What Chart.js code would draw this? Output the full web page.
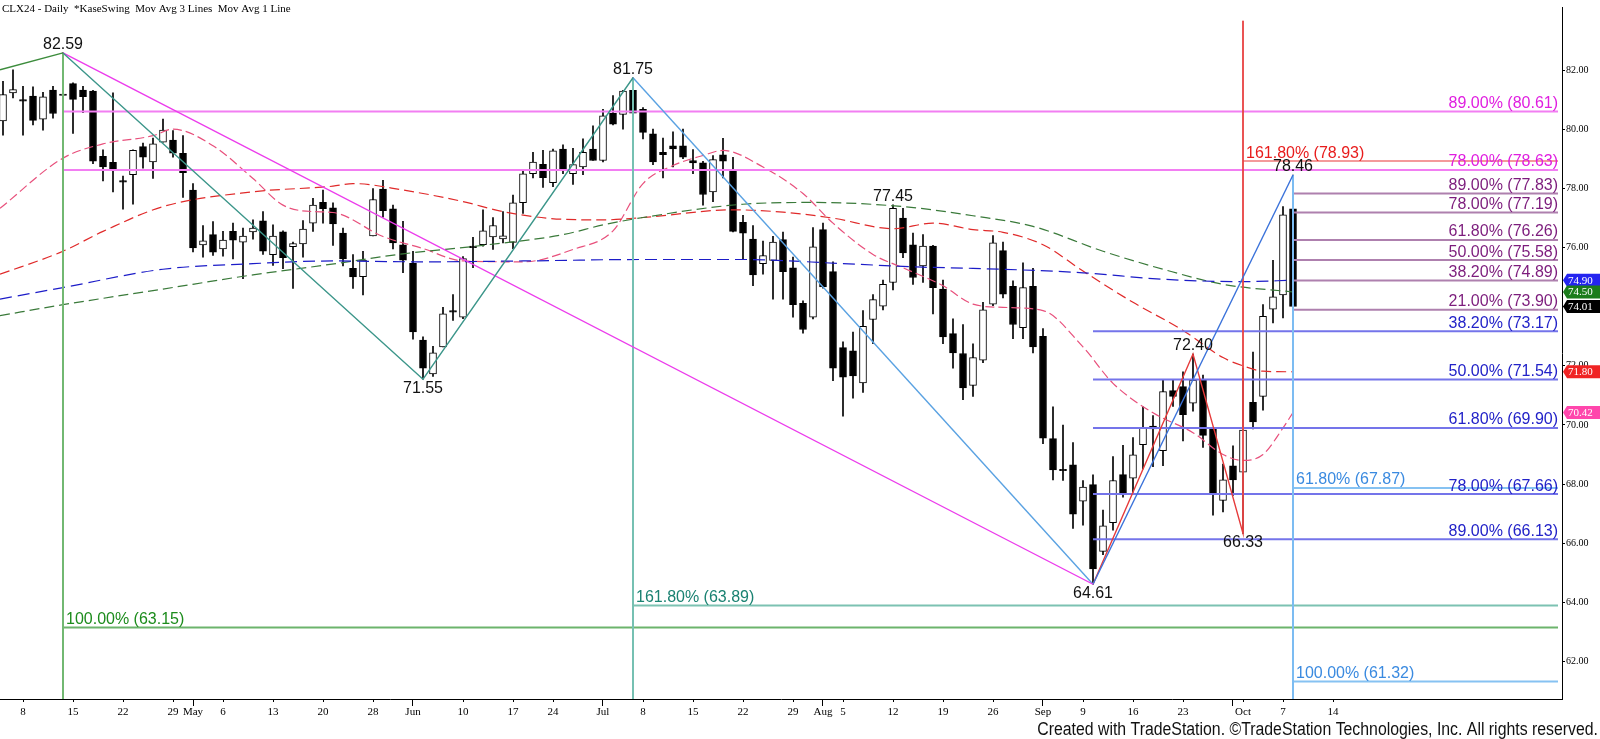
<!DOCTYPE html>
<html>
<head>
<meta charset="utf-8">
<script src="https://cdn.jsdelivr.net/npm/chart.js@4.4.1/dist/chart.umd.min.js"></script>
<style>
  html, body { margin: 0; padding: 0; background: #fff; }
  #wrap { position: relative; width: 1600px; height: 739px; }
</style>
</head>
<body>
<div id="wrap"><canvas id="chart"></canvas></div>
<script>
// daily bars, index 0 = Apr 4 2024, last = Oct 8 2024
const opens = [80.29,81.24,80.96,81.13,80.35,81.33,81.15,81.55,81.33,81.30,79.09,78.89,78.22,78.47,79.42,78.90,79.57,79.64,79.19,77.95,
  76.09,76.44,75.96,76.55,76.19,76.53,76.91,75.76,76.54,76.03,76.13,76.83,77.53,77.35,76.49,75.30,75.02,76.40,77.98,77.31,
  76.10,75.47,72.87,71.73,72.64,73.82,73.65,76.00,76.10,76.36,76.30,76.18,77.52,78.50,78.82,78.20,79.34,78.50,78.73,79.34,
  78.95,80.55,80.51,81.32,80.68,79.85,79.23,79.45,79.45,78.95,78.87,77.89,79.14,78.64,76.86,76.29,75.46,75.57,76.27,75.32,
  74.12,73.65,76.61,75.19,72.62,72.51,71.42,73.57,74.02,74.82,77.00,76.10,75.38,76.05,74.60,73.09,72.42,71.34,72.19,74.09,
  75.90,74.69,73.29,74.69,73.00,69.54,68.45,68.65,67.42,67.98,65.72,66.69,68.32,68.20,69.33,69.96,69.13,71.16,71.30,70.74,
  71.52,69.87,67.45,68.62,68.40,70.77,70.97,73.92,74.40,77.31];
const highs = [81.63,82.02,81.46,81.44,81.26,81.46,82.59,81.58,81.46,81.32,79.31,81.24,78.42,79.31,79.54,79.71,80.35,79.96,79.79,78.17,
  76.75,76.88,76.55,76.83,76.66,76.94,77.22,76.77,76.57,76.19,76.92,77.67,77.95,77.52,76.66,75.77,75.88,78.00,78.28,77.44,
  76.89,75.88,72.98,72.66,73.98,74.41,75.70,76.35,77.28,77.02,77.22,77.78,78.64,79.23,79.29,79.34,79.48,79.36,79.68,80.12,
  80.68,81.15,81.32,81.75,80.74,80.01,79.71,79.92,80.01,79.32,78.92,79.12,79.70,79.06,77.09,76.75,76.22,76.38,76.53,75.68,
  74.20,76.68,76.83,75.52,72.81,73.14,73.87,74.41,74.90,77.45,77.33,76.49,76.44,76.08,74.90,73.59,73.40,72.75,74.15,76.41,
  76.19,74.88,75.49,75.30,73.26,70.61,70.00,69.40,68.12,68.31,67.12,68.93,69.31,69.57,70.61,70.32,71.52,71.52,71.80,72.40,
  71.69,69.90,68.68,69.29,71.92,72.47,74.07,75.57,77.39,78.46];
const lows = [79.81,81.07,79.81,80.15,79.98,80.38,80.85,79.87,80.57,78.84,78.26,77.89,77.30,77.47,78.69,78.34,79.57,79.06,77.70,75.86,
  75.68,75.74,75.71,75.62,74.95,76.29,75.77,75.40,75.29,74.62,75.68,76.55,76.83,76.08,75.38,74.62,74.40,76.40,77.03,75.96,
  75.15,72.90,71.55,71.64,72.64,73.54,73.60,75.32,76.05,75.94,76.16,75.97,77.16,78.36,78.04,78.06,78.50,78.14,78.47,78.95,
  78.90,80.15,80.01,80.50,79.68,78.81,78.36,78.73,79.01,78.50,77.44,77.56,78.36,76.53,75.60,74.71,75.10,74.26,74.26,73.65,
  73.11,73.59,74.63,71.50,70.30,70.91,71.10,72.75,73.89,74.57,75.66,74.76,74.82,73.76,72.75,71.92,70.86,70.97,72.11,74.04,
  74.30,72.92,72.92,72.44,69.37,68.14,68.12,66.50,66.61,64.61,65.61,66.44,67.56,67.73,68.51,68.59,68.62,70.63,69.46,70.47,
  69.24,66.95,67.06,67.62,66.33,69.87,70.50,73.45,73.62,72.69];
const closes = [81.18,81.35,81.01,80.31,81.10,80.54,81.20,81.02,81.11,78.93,78.73,78.63,78.27,79.29,79.06,79.51,79.98,79.20,78.54,75.99,
  76.23,75.85,76.26,76.25,76.39,76.66,75.88,76.39,75.66,76.14,76.63,77.44,77.32,76.80,75.62,75.01,75.58,77.63,77.25,76.16,
  75.58,73.15,71.92,72.44,73.76,73.87,75.63,76.05,76.57,76.75,76.40,77.52,78.50,78.90,78.37,79.28,78.62,78.81,79.23,78.95,
  80.46,80.18,81.30,80.55,79.90,78.90,79.15,79.34,79.06,78.87,77.80,78.98,78.93,76.55,76.49,75.08,75.73,76.19,75.19,74.07,
  73.23,76.03,74.67,71.92,71.62,71.66,73.34,74.24,74.76,77.33,75.82,74.99,76.05,74.65,72.98,72.44,71.25,72.28,73.90,76.16,
  74.43,73.40,74.65,72.64,69.55,68.48,68.50,66.98,67.90,65.13,66.59,68.12,67.71,68.99,69.91,69.87,71.13,70.97,70.35,71.52,
  69.65,67.67,68.14,68.14,69.83,70.10,73.68,74.34,77.11,74.01];

// date ticks along the bottom (bar index, label); monthTicks get the long marks
const tickIdx  = [2, 7, 12, 17, 19, 22, 27, 32, 37, 41, 46, 51, 55, 60, 64, 69, 74, 79, 82, 84, 89, 94, 99, 104, 108, 113, 118, 123, 124, 128, 133];
const tickText = ['8','15','22','29','May','6','13','20','28','Jun','10','17','24','Jul','8','15','22','29','Aug','5','12','19','26','Sep','9','16','23','','Oct','7','14'];
const monthTicks = [19, 41, 60, 82, 104, 123];
const priceTicks = [62, 64, 66, 68, 70, 72, 74, 76, 78, 80, 82];

// moving averages: [bar index, value]
const maPink = [[-0.3,77.33],[6,79.03],[10,79.51],[15,79.79],[17,80.01],[21,79.45],[25,78.34],[28,77.44],[31,77.22],[33,77.19],[38,76.38],
  [42,75.97],[46,75.55],[52,75.52],[57,75.94],[61,76.57],[64,78.17],[67,78.78],[70,79.12],[72,79.29],[76,78.73],[80,77.83],[83,76.83],
  [87,75.77],[90,75.32],[94,74.71],[97,74.09],[100,73.98],[104,73.87],[108,72.64],[111,71.41],[115,70.41],[119,69.74],[122,69.0],
  [124,68.8],[126,69.0],[128,69.9],[129,70.42]];
const maRed = [[-0.3,75.10],[6,75.88],[10,76.55],[16,77.39],[25,77.89],[33,78.08],[35,78.17],[40,77.95],[46,77.56],[50,77.22],[56,76.96],
  [60,76.94],[64,77.02],[73,77.28],[78,77.20],[83,77.00],[89,76.64],[93,76.83],[97,76.61],[100,76.52],[104,76.10],[108,75.21],
  [113,74.15],[118,73.20],[122,72.28],[124,72.0],[126,71.82],[129,71.80]];
const maGreen = [[-0.3,73.70],[6,74.07],[16,74.60],[25,75.08],[32,75.40],[40,75.79],[48,76.08],[56,76.44],[60,76.77],[64,77.02],[74,77.47],
  [81,77.53],[90,77.39],[97,77.08],[103,76.72],[110,75.88],[116,75.27],[122,74.76],[129,74.50]];
const maBlue = [[-0.3,74.26],[6,74.65],[16,75.27],[25,75.46],[33,75.55],[42,75.52],[52,75.55],[64,75.60],[74,75.60],[84,75.46],[92,75.34],
  [97,75.30],[108,75.15],[116,74.93],[124,74.85],[129,74.90]];

// swing lines: [bar index, price]
const swingGreen = [[-0.3,82.02],[6,82.59]];
const swingTeal = [[6,82.59],[42,71.55],[63,81.75]];
const swingMagenta = [[6,82.59],[109,64.61]];
const swingLightBlue = [[63,81.75],[109,64.61]];
const swingBlue = [[109,64.61],[129,78.46]];
const swingRed = [[109,64.61],[119,72.40],[124,66.33],[124,83.68]];

// swing point labels
const pivotIdx = [6, 63, 42, 89, 109, 119, 124, 129];
const pivotVal = [82.59, 81.75, 71.55, 77.45, 64.61, 72.40, 66.33, 78.46];
const pivotUp  = [true, true, false, true, false, true, false, true];

// retracement / projection levels, each starts at its anchor bar
const magentaFrom = 6,  magentaVals = [80.61, 78.63], magentaPct = ['89.00%', '78.00%'];
const redFrom = 124,    redVals = [78.93], redPct = ['161.80%'];
const purpleFrom = 129, purpleVals = [77.83, 77.19, 76.26, 75.58, 74.89, 73.90], purplePct = ['89.00%','78.00%','61.80%','50.00%','38.20%','21.00%'];
const blueFrom = 109,   blueVals = [73.17, 71.54, 69.90, 67.66, 66.13], bluePct = ['38.20%','50.00%','61.80%','78.00%','89.00%'];
const lbFrom = 129,     lbVals = [67.87, 61.32], lbPct = ['61.80%', '100.00%'];
const tealFrom = 63,    tealVals = [63.89], tealPct = ['161.80%'];
const greenFrom = 6,    greenVals = [63.15], greenPct = ['100.00%'];

// last values of the averages and price, shown on the axis
const axisMarks = [74.90, 74.50, 74.01, 71.80, 70.42];

const X_MIN = -0.3, X_MAX = 155.9, LEVEL_END = 155.5;
const Y_MIN = 60.727, Y_MAX = 84.144;

const pts = arr => arr.map(p => ({ x: p[0], y: p[1] }));

const levelGroups = [
  { from: magentaFrom, vals: magentaVals, pct: magentaPct, line: '#f27ef2', text: '#e01ee0', w: 2, side: 'right' },
  { from: redFrom, vals: redVals, pct: redPct, line: '#f07878', text: '#e81c1c', w: 1.5, side: 'left' },
  { from: purpleFrom, vals: purpleVals, pct: purplePct, line: '#ae80ae', text: '#7c1c7c', w: 2, side: 'right' },
  { from: blueFrom, vals: blueVals, pct: bluePct, line: '#7474ea', text: '#2222c8', w: 2, side: 'right' },
  { from: lbFrom, vals: lbVals, pct: lbPct, line: '#86c2f2', text: '#3a8ae0', w: 2, side: 'left' },
  { from: tealFrom, vals: tealVals, pct: tealPct, line: '#7cc2b2', text: '#1a8272', w: 2, side: 'left' },
  { from: greenFrom, vals: greenVals, pct: greenPct, line: '#6cb46c', text: '#1c8c1c', w: 2, side: 'left' },
];

const datasets = [];

// candles
const idx = closes.map((c, i) => i);
datasets.push({
  type: 'bar', order: 20, grouped: false, barThickness: 1,
  data: idx.map(i => ({ x: i, y: [lows[i], highs[i]] })),
  backgroundColor: '#000', borderWidth: 0,
});
datasets.push({
  type: 'bar', order: 19, grouped: false, barThickness: 7,
  data: idx.map(i => ({ x: i, y: [Math.min(opens[i], closes[i]), Math.max(opens[i], closes[i])] })),
  backgroundColor: idx.map(i => closes[i] > opens[i] + 0.06 ? '#ffffff' : '#000000'),
  borderColor: '#000', borderWidth: 1, borderSkipped: false,
});

// moving averages
[[maBlue, '#1c1cc8', [12, 6]], [maGreen, '#3a7a3a', [10, 5]], [maRed, '#e02a2a', [10, 5]], [maPink, '#e8507c', [9, 4]]].forEach((m, k) => {
  datasets.push({
    type: 'line', order: 10 + k, data: pts(m[0]), borderColor: m[1], borderWidth: 1.2,
    borderDash: m[2], pointRadius: 0, tension: 0.35, cubicInterpolationMode: 'monotone',
  });
});

// level lines
levelGroups.forEach(g => {
  g.vals.forEach(v => {
    datasets.push({
      type: 'line', order: 6, data: [{ x: g.from, y: v }, { x: LEVEL_END, y: v }],
      borderColor: g.line, borderWidth: g.w, pointRadius: 0,
    });
  });
});

// swing lines
[[swingGreen, '#3c8c3c'], [swingTeal, '#3c968a'], [swingMagenta, '#ec3cec'], [swingLightBlue, '#5aa2e2'],
 [swingBlue, '#3a72da'], [swingRed, '#e63a3a']].forEach(s => {
  datasets.push({
    type: 'line', order: 3, data: pts(s[0]), borderColor: s[1], borderWidth: 1.4, pointRadius: 0, tension: 0,
  });
});

// vertical anchors
[[6, 82.59, '#72b872'], [63, 81.75, '#76c0b2'], [129, 78.46, '#7cbcf2']].forEach(v => {
  datasets.push({
    type: 'line', order: 4, data: [{ x: v[0], y: v[1] }, { x: v[0], y: Y_MIN }],
    borderColor: v[2], borderWidth: 2, pointRadius: 0,
  });
});
datasets.push({
  type: 'line', order: 4, data: [{ x: 124, y: 66.33 }, { x: 124, y: 83.68 }],
  borderColor: '#f07070', borderWidth: 1.5, pointRadius: 0,
});

const overlay = {
  id: 'overlay',
  afterDraw(chart) {
    const { ctx, scales: { x, y } } = chart;
    ctx.save();
    ctx.textBaseline = 'alphabetic';

    // level labels
    ctx.font = '16px Arial, "Liberation Sans", sans-serif';
    levelGroups.forEach(g => {
      ctx.fillStyle = g.text;
      g.vals.forEach((v, k) => {
        const t = g.pct[k] + ' (' + v.toFixed(2) + ')';
        const py = y.getPixelForValue(v) - 3.5;
        if (g.side === 'right') {
          ctx.textAlign = 'right';
          ctx.fillText(t, x.getPixelForValue(LEVEL_END), py);
        } else {
          ctx.textAlign = 'left';
          ctx.fillText(t, x.getPixelForValue(g.from) + 3, py);
        }
      });
    });

    // pivot labels
    ctx.fillStyle = '#111';
    ctx.textAlign = 'center';
    pivotIdx.forEach((i, k) => {
      const px = x.getPixelForValue(i), py = y.getPixelForValue(pivotVal[k]);
      ctx.fillText(pivotVal[k].toFixed(2), px, pivotUp[k] ? py - 4 : py + 14);
    });

    // short day ticks on the date axis
    ctx.strokeStyle = '#000';
    ctx.lineWidth = 1;
    ctx.beginPath();
    tickIdx.forEach(i => {
      if (monthTicks.includes(i)) return;
      const px = Math.round(x.getPixelForValue(i)) + 0.5;
      ctx.moveTo(px, x.top);
      ctx.lineTo(px, x.top + 3);
    });
    ctx.stroke();

    // title
    ctx.font = '11px "Liberation Serif", "Times New Roman", serif';
    ctx.textAlign = 'left';
    ctx.fillStyle = '#000';
    ctx.fillText('CLX24 - Daily  *KaseSwing  Mov Avg 3 Lines  Mov Avg 1 Line', 2, 12);

    // footer (narrow, tall lettering)
    ctx.save();
    ctx.font = '18px Arial, "Liberation Sans", sans-serif';
    ctx.textAlign = 'right';
    ctx.fillStyle = '#111';
    ctx.translate(1598, 735);
    ctx.scale(0.88, 1);
    ctx.fillText('Created with TradeStation. \u00A9TradeStation Technologies, Inc. All rights reserved.', 0, 0);
    ctx.restore();

    // value markers on the price axis
    const boxColors = ['#2424f0', '#1c7c1c', '#000000', '#f02424', '#ff46ac'];
    ctx.font = '11px "Liberation Serif", "Times New Roman", serif';
    ctx.textAlign = 'left';
    ctx.textBaseline = 'middle';
    axisMarks.forEach((v, k) => {
      const py = y.getPixelForValue(v);
      const x0 = x.right + 1;
      ctx.fillStyle = boxColors[k];
      ctx.beginPath();
      ctx.moveTo(x0, py);
      ctx.lineTo(x0 + 4, py - 6.5);
      ctx.lineTo(1600, py - 6.5);
      ctx.lineTo(1600, py + 6.5);
      ctx.lineTo(x0 + 4, py + 6.5);
      ctx.closePath();
      ctx.fill();
      ctx.fillStyle = '#fff';
      ctx.fillText(v.toFixed(2), x0 + 5, py + 0.5);
    });
    ctx.restore();
  }
};

new Chart('chart', {
  type: 'bar',
  data: { datasets: datasets },
  options: {
    responsive: true,
    maintainAspectRatio: false,
    animation: false,
    layout: { padding: 0 },
    plugins: { legend: { display: false }, tooltip: { enabled: false }, title: { display: false } },
    scales: {
      x: {
        type: 'linear', min: X_MIN, max: X_MAX, offset: false,
        grid: {
          display: true, drawOnChartArea: false, drawTicks: true, tickLength: 7, offset: false,
          color: c => (c.tick && monthTicks.includes(c.tick.value)) ? '#000' : 'rgba(0,0,0,0)',
        },
        border: { display: true, color: '#000', width: 1 },
        afterBuildTicks: s => { s.ticks = tickIdx.map(v => ({ value: v })); },
        afterFit: s => { s.height = 40; },
        ticks: {
          autoSkip: false, maxRotation: 0, minRotation: 0, padding: 0, color: '#000',
          font: { family: '"Liberation Serif", "Times New Roman", serif', size: 11 },
          callback: (v, i) => tickText[i],
        },
      },
      y: {
        type: 'linear', position: 'right', min: Y_MIN, max: Y_MAX,
        grid: { display: true, drawOnChartArea: false, drawTicks: true, tickLength: 3, color: '#000' },
        border: { display: true, color: '#000', width: 1 },
        afterBuildTicks: s => { s.ticks = priceTicks.map(v => ({ value: v })); },
        afterFit: s => { s.width = 38; },
        ticks: {
          padding: 1, color: '#000',
          font: { family: '"Liberation Serif", "Times New Roman", serif', size: 10 },
          callback: v => Number(v).toFixed(2),
        },
      },
    },
  },
  plugins: [overlay],
});
</script>
</body>
</html>
